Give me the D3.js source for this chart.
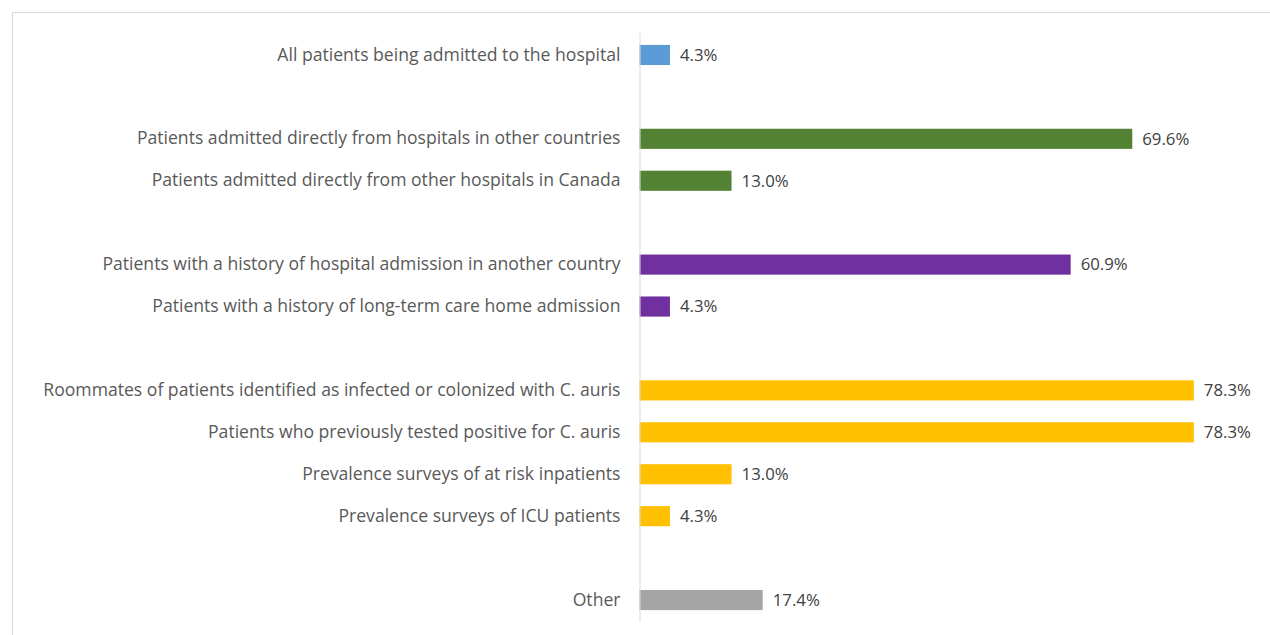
<!DOCTYPE html>
<html>
<head>
<meta charset="utf-8">
<script src="https://cdn.jsdelivr.net/npm/d3@7"></script>
<style>
  html, body { margin: 0; padding: 0; background: #fff; }
  svg { display: block; }
</style>
</head>
<body>
<svg id="chart" width="1270" height="635"></svg>
<script>
// Screening groups for C. auris, listed top to bottom (blank entries are spacer rows)
const categories = [
  "All patients being admitted to the hospital",
  "",
  "Patients admitted directly from hospitals in other countries",
  "Patients admitted directly from other hospitals in Canada",
  " ",
  "Patients with a history of hospital admission in another country",
  "Patients with a history of long-term care home admission",
  "  ",
  "Roommates of patients identified as infected or colonized with C. auris",
  "Patients who previously tested positive for C. auris",
  "Prevalence surveys of at risk inpatients",
  "Prevalence surveys of ICU patients",
  "   ",
  "Other"
];
const values = [4.3, null, 69.6, 13.0, null, 60.9, 4.3, null, 78.3, 78.3, 13.0, 4.3, null, 17.4];
const groups = ["all", null, "transfer", "transfer", null, "history", "history", null, "screen", "screen", "screen", "screen", null, "other"];
const groupColors = { all: "#5B9BD5", transfer: "#548235", history: "#7030A0", screen: "#FFC000", other: "#A5A5A5" };

const svg = d3.select("#chart");
const W = 1270, H = 635;

// Chart frame
svg.append("rect")
  .attr("x", 12.5).attr("y", 12.5)
  .attr("width", W).attr("height", H)
  .attr("fill", "none").attr("stroke", "#d9d9d9").attr("stroke-width", 1);

const x0 = 639.5;
const x = d3.scaleLinear().domain([0, 100]).range([x0, x0 + 708]);
const y = d3.scaleBand().domain(categories).range([34, 621]).paddingInner(0.52).paddingOuter(0.26);

const rows = categories.map((c, i) => ({ c, v: values[i], g: groups[i] }));

// Bars
svg.append("g").selectAll("rect")
  .data(rows.filter(d => d.v != null))
  .join("rect")
  .attr("x", x(0))
  .attr("y", d => y(d.c))
  .attr("width", d => x(d.v) - x(0))
  .attr("height", y.bandwidth())
  .attr("fill", d => groupColors[d.g]);

// Category axis
const yAxis = d3.axisLeft(y).tickSize(0).tickPadding(19)
  .tickFormat(d => d.trim());
const ag = svg.append("g").attr("transform", `translate(${x0},0)`).call(yAxis);
ag.select(".domain").attr("stroke", "#d9d9d9").attr("d", `M0.5,33V622`);
ag.selectAll("text")
  .attr("fill", "#595959")
  .style("font-family", "'Open Sans', 'Noto Sans', sans-serif")
  .style("font-size", "17.6px");

// Value labels
svg.append("g").selectAll("text")
  .data(rows.filter(d => d.v != null))
  .join("text")
  .attr("x", d => x(d.v) + 10)
  .attr("y", d => y(d.c) + y.bandwidth() / 2)
  .attr("dy", "0.35em")
  .attr("fill", "#404040")
  .style("font-family", "'Open Sans', 'Noto Sans', sans-serif")
  .style("font-size", "16.8px")
  .text(d => d.v.toFixed(1) + "%");
</script>
</body>
</html>
